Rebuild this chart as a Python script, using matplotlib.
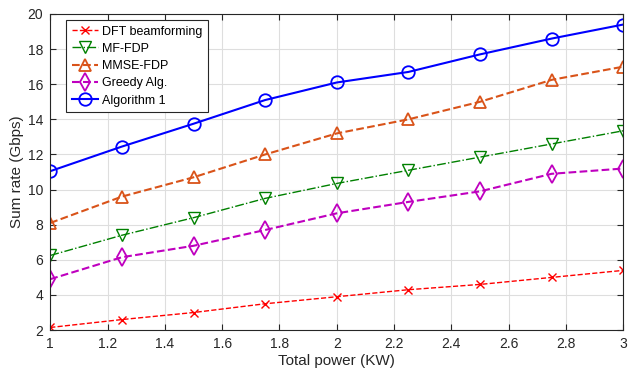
import numpy as np
import matplotlib
matplotlib.use("Agg")
import matplotlib.pyplot as plt

# data
power = [1, 1.25, 1.5, 1.75, 2, 2.25, 2.5, 2.75, 3]
dft = [2.15, 2.6, 3.0, 3.5, 3.9, 4.3, 4.6, 5.0, 5.4]
mf_fdp = [6.25, 7.4, 8.4, 9.5, 10.35, 11.1, 11.85, 12.6, 13.35]
mmse_fdp = [8.1, 9.6, 10.7, 12.0, 13.2, 14.0, 15.0, 16.25, 17.0]
greedy = [4.9, 6.15, 6.8, 7.7, 8.65, 9.3, 9.9, 10.9, 11.2]
alg1 = [11.05, 12.45, 13.75, 15.1, 16.1, 16.7, 17.7, 18.6, 19.4]

plt.rcParams['font.family'] = ['Liberation Sans', 'DejaVu Sans']

fig = plt.figure(figsize=(6.36, 3.68), dpi=100)
ax = fig.add_axes([0.079, 0.103, 0.901, 0.859])

ax.plot(power, dft, '--', color='red', marker='x', ms=6, mew=1.0, lw=1.0,
        label='DFT beamforming')
ax.plot(power, mf_fdp, '-.', color=(0, 0.5, 0), marker='v', ms=8, mfc='none', mew=1.0, lw=1.0,
        label='MF-FDP')
ax.plot(power, mmse_fdp, '--', color=(0.85, 0.325, 0.098), marker='^', ms=9, mfc='none', mew=1.3,
        lw=1.5, label='MMSE-FDP')
ax.plot(power, greedy, '--', color='m', marker='d', ms=9, mfc='none', mew=1.3, lw=1.5,
        label='Greedy Alg.')
ax.plot(power, alg1, '-', color='blue', marker='o', ms=9, mfc='none', mew=1.3, lw=1.5,
        label='Algorithm 1')

ax.set_xlim(1, 3)
ax.set_ylim(2, 20)
ax.set_xticks(np.arange(1, 3.01, 0.2))
ax.set_xticklabels(['1', '1.2', '1.4', '1.6', '1.8', '2', '2.2', '2.4', '2.6', '2.8', '3'])
ax.set_yticks(np.arange(2, 21, 2))
ax.tick_params(direction='in', length=4, labelsize=10, colors='#262626', top=True, right=True,
               pad=5)
ax.grid(True, color='#dedede', lw=0.8)
ax.set_axisbelow(True)
for s in ax.spines.values():
    s.set_color('#262626')
    s.set_linewidth(0.8)

ax.set_xlabel('Total power (KW)', fontsize=11, color='#262626', labelpad=2)
ax.set_ylabel('Sum rate (Gbps)', fontsize=11, color='#262626', labelpad=3)

leg = ax.legend(loc='upper left', bbox_to_anchor=(0.028, 0.981), borderaxespad=0, fontsize=9,
                handlelength=2.1, handletextpad=0.3, labelspacing=0.42,
                borderpad=0.45, fancybox=False, edgecolor='#262626', framealpha=1)
leg.get_frame().set_linewidth(0.8)

fig.savefig('out.png', dpi=100)
